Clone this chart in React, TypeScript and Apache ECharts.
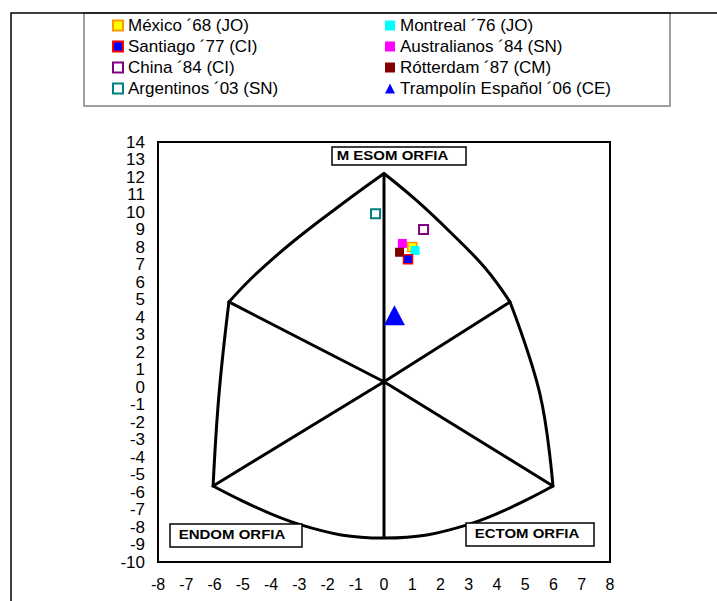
import React, { useEffect, useRef } from "react";
import * as echarts from "echarts";

const FONT = '"Liberation Sans", Arial, sans-serif';

// Series names (legend, two columns)
const names = [
  "México ´68 (JO)",
  "Montreal ´76 (JO)",
  "Santiago ´77 (CI)",
  "Australianos ´84 (SN)",
  "China ´84 (CI)",
  "Rótterdam ´87 (CM)",
  "Argentinos ´03 (SN)",
  "Trampolín Español ´06 (CE)",
];
const legendCol1 = [names[0], names[2], names[4], names[6]];
const legendCol2 = [names[1], names[3], names[5], names[7]];

// Somatopoints [x, y]
const mexico68 = [[1.0, 8.0]];
const montreal76 = [[1.1, 7.8]];
const santiago77 = [[0.85, 7.3]];
const australianos84 = [[0.65, 8.2]];
const china84 = [[1.4, 9.0]];
const rotterdam87 = [[0.55, 7.7]];
const argentinos03 = [[-0.3, 9.9]];
const trampolin06 = [[0.37, 4.1]];

// Somatochart outline (data coordinates)
const centerPt = [0, 0.3];
const spokeEnds = [
  [0, 12.2],
  [-5.49, 4.86],
  [-6.05, -5.66],
  [0, -8.63],
  [5.98, -5.66],
  [4.46, 4.86],
];
const upperLeftArc = [
  [0, 12.2],
  [-1.2, 10.8],
  [-3.15, 8.4],
  [-4.57, 6.4],
  [-5.49, 4.86],
];
const lowerLeftArc = [
  [-5.49, 4.86],
  [-5.84, -0.4],
  [-6.05, -5.66],
];
const upperRightArc = [
  [0, 12.2],
  [1.13, 10.69],
  [2.34, 8.86],
  [3.58, 6.8],
  [4.46, 4.86],
];
const lowerRightArc = [
  [4.46, 4.86],
  [5.52, -0.4],
  [5.98, -5.66],
];
const bottomArc = [
  [-6.05, -5.66],
  [-3.0, -7.85],
  [0, -8.63],
  [3.0, -7.85],
  [5.98, -5.66],
];

export default function App() {
  const ref = useRef<HTMLDivElement>(null);

  useEffect(() => {
    if (!ref.current) return;
    const chart = echarts.init(ref.current, undefined, { renderer: "svg" });

    const sq = (name: string, data: number[][], color: string, border?: string, bw = 0) => ({
      name,
      type: "scatter",
      data,
      symbol: "rect",
      symbolSize: 9,
      z: 5,
      itemStyle: { color, borderColor: border || color, borderWidth: bw, opacity: 1 },
    });

    const arc = (data: number[][]) => ({
      type: "line",
      data,
      smooth: 0.4,
      symbol: "none",
      silent: true,
      z: 2,
      lineStyle: { color: "#000", width: 3, cap: "round", join: "round" },
    });

    const labelBox = (cx: number, cy: number, bx: number, by: number, bw: number, bh: number, text: string) => [
      {
        type: "rect",
        shape: { x: bx, y: by, width: bw, height: bh },
        style: { fill: "#fff", stroke: "#000", lineWidth: 1.5 },
        z: 10,
      },
      {
        type: "text",
        x: cx,
        y: cy,
        scaleX: 1.2,
        scaleY: 0.95,
        style: {
          text,
          font: `bold 12.5px ${FONT}`,
          fill: "#000",
          textAlign: "center",
          textVerticalAlign: "middle",
          verticalAlign: "middle",
        },
        z: 11,
      },
    ];

    const legendBase = {
      orient: "vertical",
      top: 17,
      padding: 0,
      itemGap: 4,
      itemWidth: 10,
      itemHeight: 10,
      selectedMode: false,
      textStyle: { fontSize: 17, fontFamily: FONT, color: "#000", lineHeight: 17 },
    };

    chart.setOption({
      animation: false,
      backgroundColor: "#fff",
      grid: {
        left: 158,
        top: 142,
        width: 452,
        height: 420,
        show: true,
        borderColor: "#000",
        borderWidth: 2,
        backgroundColor: "transparent",
      },
      xAxis: {
        type: "value",
        min: -8,
        max: 8,
        interval: 1,
        axisLine: { show: false },
        axisTick: { show: false },
        splitLine: { show: false },
        axisLabel: { fontSize: 16, fontFamily: FONT, color: "#000", margin: 14 },
      },
      yAxis: {
        type: "value",
        min: -10,
        max: 14,
        interval: 1,
        axisLine: { show: false },
        axisTick: { show: false },
        splitLine: { show: false },
        axisLabel: { fontSize: 17, fontFamily: FONT, color: "#000", margin: 13 },
      },
      legend: [
        { ...legendBase, left: 112, data: legendCol1 },
        { ...legendBase, left: 385, data: legendCol2 },
      ],
      graphic: [
        {
          type: "rect",
          shape: { x: 84, y: 13, width: 586, height: 93 },
          style: { fill: "none", stroke: "#808080", lineWidth: 1.5 },
          z: 1,
        },
        {
          type: "rect",
          shape: { x: 11, y: 13, width: 800, height: 700 },
          style: { fill: "none", stroke: "#000", lineWidth: 1.5 },
          z: 2,
        },
        ...labelBox(392.5, 156, 332, 147, 134, 18, "M ESOM ORFIA"),
        ...labelBox(232, 535, 170, 524, 132, 23, "ENDOM ORFIA"),
        ...labelBox(527, 534, 466, 523, 128, 23, "ECTOM ORFIA"),
      ],
      series: [
        {
          type: "custom",
          silent: true,
          z: 2,
          data: spokeEnds.map((e) => [centerPt[0], centerPt[1], e[0], e[1]]),
          renderItem: (_p: any, api: any) => {
            const a = api.coord([api.value(0), api.value(1)]);
            const b = api.coord([api.value(2), api.value(3)]);
            return {
              type: "line",
              shape: { x1: a[0], y1: a[1], x2: b[0], y2: b[1] },
              style: { stroke: "#000", lineWidth: 3 },
            };
          },
        },
        arc(upperLeftArc),
        arc(lowerLeftArc),
        arc(upperRightArc),
        arc(lowerRightArc),
        arc(bottomArc),
        sq(names[0], mexico68, "#FFFF00", "#FF9900", 1.5),
        sq(names[1], montreal76, "#00FFFF"),
        sq(names[2], santiago77, "#0000FF", "#FF0000", 1.5),
        sq(names[3], australianos84, "#FF00FF"),
        sq(names[4], china84, "#FFFFFF", "#800080", 2),
        sq(names[5], rotterdam87, "#800000"),
        sq(names[6], argentinos03, "#FFFFFF", "#008080", 2),
        {
          name: names[7],
          type: "scatter",
          data: trampolin06,
          symbol: "triangle",
          symbolSize: [21, 20],
          z: 5,
          itemStyle: { color: "#0000FF", opacity: 1 },
        },
      ],
    });

    return () => chart.dispose();
  }, []);

  return (
    <div
      ref={ref}
      style={{ position: "absolute", left: 0, top: 0, width: 717, height: 601 }}
    />
  );
}
